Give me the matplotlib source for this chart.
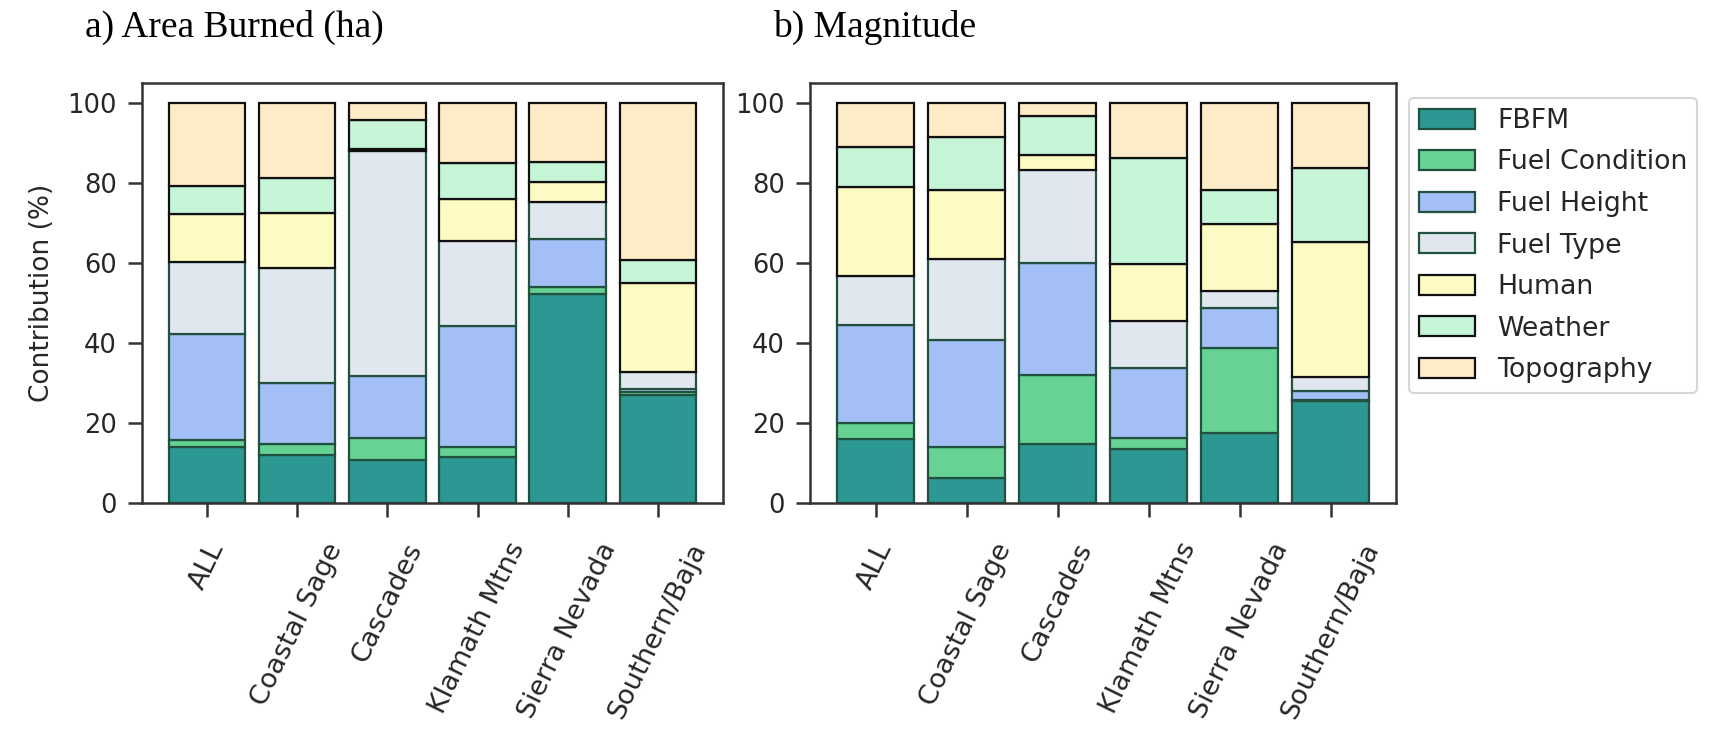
import numpy as np
import matplotlib
matplotlib.use("Agg")
import matplotlib.pyplot as plt

regions = ['ALL', 'Coastal Sage', 'Cascades', 'Klamath Mtns', 'Sierra Nevada', 'Southern/Baja']
factors = ['FBFM', 'Fuel Condition', 'Fuel Height', 'Fuel Type', 'Human', 'Weather', 'Topography']

# a) area burned, contribution (%) per factor
area_fbfm = [13.9, 11.8, 10.7, 11.3, 52.1, 26.9]
area_fuel_cond = [1.8, 2.9, 5.4, 2.6, 1.8, 0.7]
area_fuel_height = [26.4, 15.3, 15.6, 30.4, 12.0, 0.9]
area_fuel_type = [18.2, 28.8, 56.3, 21.2, 9.4, 4.2]
area_human = [11.8, 13.6, 0.5, 10.5, 4.8, 22.3]
area_weather = [7.0, 8.7, 7.2, 9.0, 5.2, 5.8]
area_topo = [20.9, 18.9, 4.3, 15.0, 14.7, 39.2]

# b) magnitude
mag_fbfm = [15.9, 6.2, 14.6, 13.3, 17.3, 25.5]
mag_fuel_cond = [3.9, 7.8, 17.2, 2.8, 21.5, 0.2]
mag_fuel_height = [24.7, 26.8, 28.1, 17.5, 9.9, 2.3]
mag_fuel_type = [12.2, 20.2, 23.3, 11.9, 4.2, 3.5]
mag_human = [22.3, 17.2, 3.7, 14.2, 16.9, 33.8]
mag_weather = [10.1, 13.4, 9.8, 26.5, 8.4, 18.4]
mag_topo = [10.9, 8.4, 3.3, 13.8, 21.8, 16.3]

colors = ['#2d9793', '#66d294', '#a3bff5', '#e1e7ef', '#fefac3', '#c5f4d6', '#feebc8']
edges = ['#22513f'] * 4 + ['#111111'] * 3

area = [area_fbfm, area_fuel_cond, area_fuel_height, area_fuel_type, area_human, area_weather, area_topo]
mag = [mag_fbfm, mag_fuel_cond, mag_fuel_height, mag_fuel_type, mag_human, mag_weather, mag_topo]

plt.rcParams['font.family'] = 'DejaVu Sans'
txt = '#262626'
plt.rcParams['text.color'] = txt
plt.rcParams['axes.labelcolor'] = txt
plt.rcParams['xtick.color'] = '#333333'
plt.rcParams['ytick.color'] = '#333333'
plt.rcParams['xtick.labelcolor'] = txt
plt.rcParams['ytick.labelcolor'] = txt

fig = plt.figure(figsize=(17.14, 7.3), dpi=100)
ax1 = fig.add_axes([0.0828, 0.3116, 0.339, 0.5747])
ax2 = fig.add_axes([0.4726, 0.3116, 0.3419, 0.5747])

x = np.arange(len(regions))
for ax, data in [(ax1, area), (ax2, mag)]:
    bottom = np.zeros(len(regions))
    for name, vals, c, ec in zip(factors, data, colors, edges):
        ax.bar(x, vals, 0.85, bottom=bottom, color=c, edgecolor=ec, linewidth=1.6, label=name)
        bottom += np.array(vals)
    ax.set_xlim(-0.72, 5.72)
    ax.set_ylim(0, 105)
    ax.set_yticks([0, 20, 40, 60, 80, 100])
    ax.set_xticks(x)
    ax.set_xticklabels(regions, rotation=64, ha='center')
    ax.tick_params(axis='both', length=10, width=1.8)
    ax.tick_params(axis='y', pad=8, labelsize=18.5)
    ax.tick_params(axis='x', pad=16, labelsize=19.5)
    for s in ax.spines.values():
        s.set_linewidth(1.8)
        s.set_color('#333333')

ax1.set_ylabel('Contribution (%)', fontsize=19, labelpad=9)

fig.text(0.0496, 0.963, 'a) Area Burned (ha)', fontsize=27, family='Liberation Serif', color='black', va='center')
fig.text(0.451, 0.963, 'b) Magnitude', fontsize=27, family='Liberation Serif', color='black', va='center')

leg = ax2.legend(loc='upper left', bbox_to_anchor=(1409 / 1714, 1 - 98 / 730), bbox_transform=fig.transFigure,
                 borderaxespad=0, fontsize=19.3, handlelength=2.1, handleheight=0.78, labelspacing=0.58,
                 handletextpad=0.82, borderpad=0.37, frameon=True, fancybox=True)
leg.get_frame().set_edgecolor('#cccccc')
leg.get_frame().set_linewidth(1.5)

fig.savefig('out.png', dpi=100)
